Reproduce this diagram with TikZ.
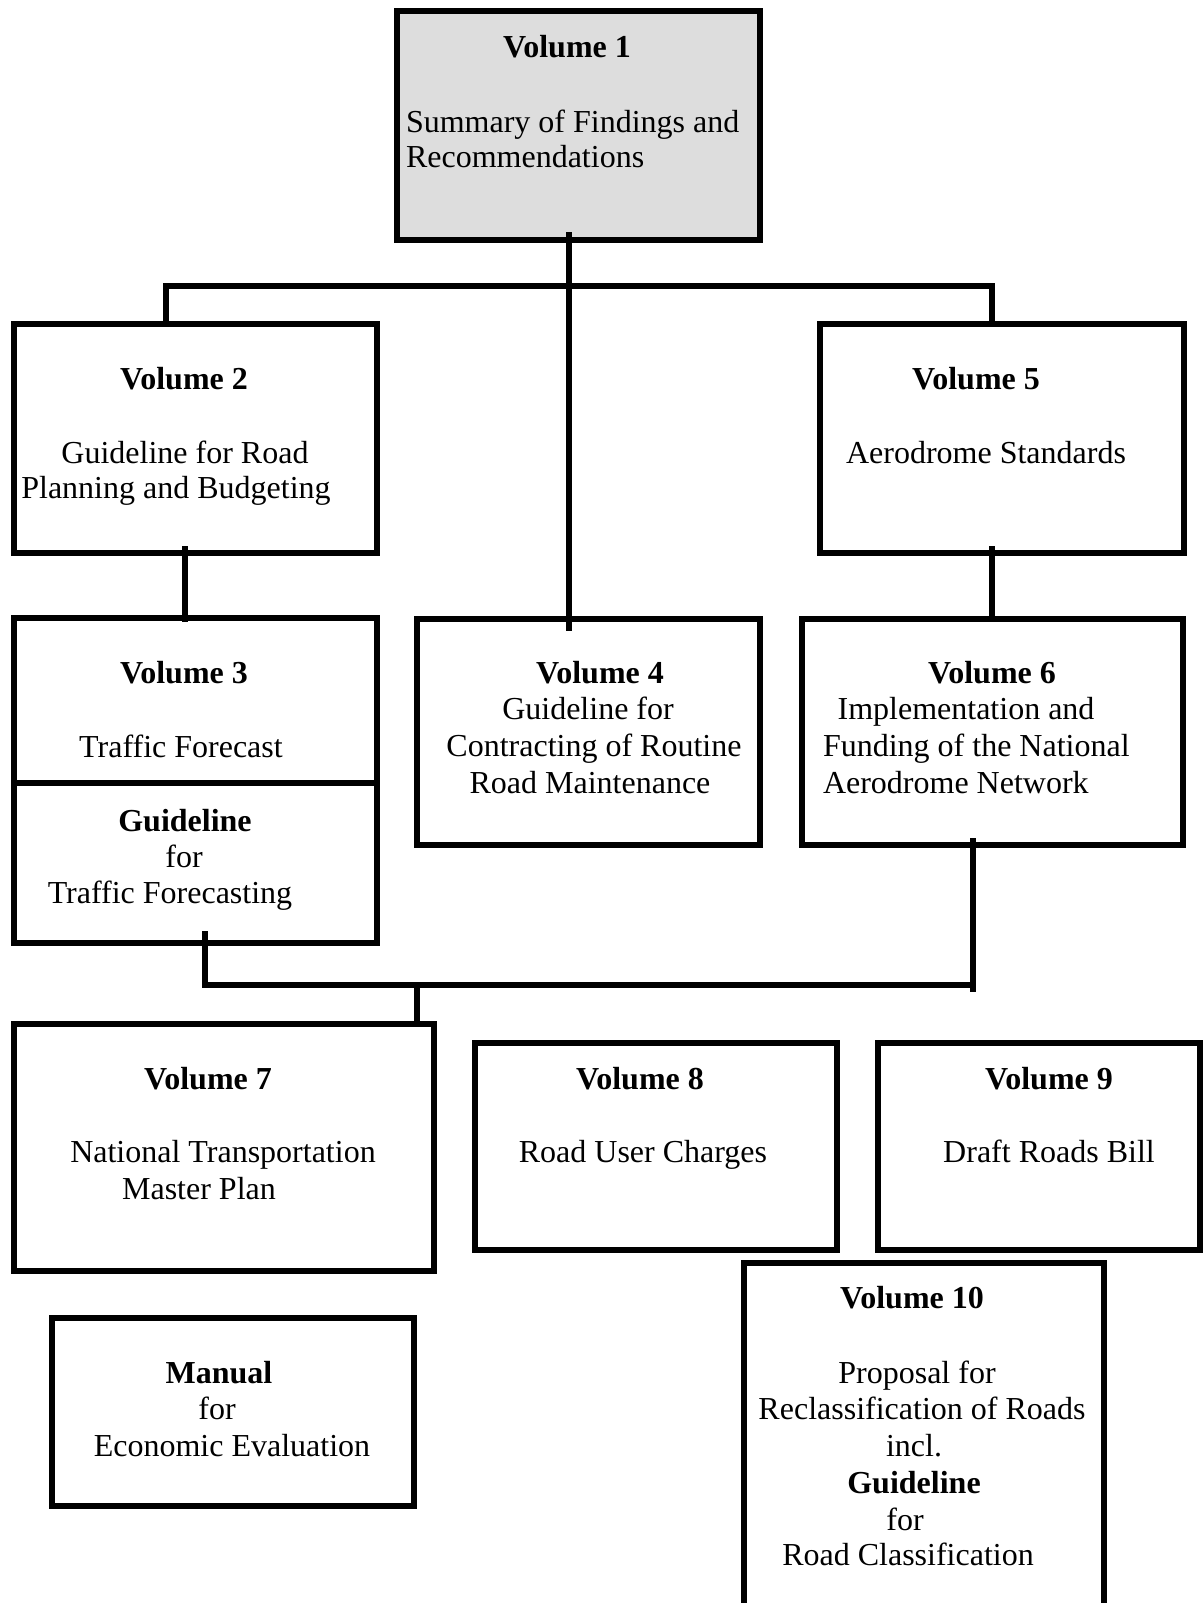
\documentclass[tikz,border=0pt]{standalone}
\usepackage{fontspec}
\setmainfont{Liberation Serif}
\definecolor{boxgray}{RGB}{221,221,221}
\begin{document}
\begin{tikzpicture}[x=1pt,y=-1pt,
  box/.style={draw=black, line width=5.5pt, inner sep=0pt, outer sep=0pt, anchor=north west},
  conn/.style={draw=black, line width=5.5pt},
  txt/.style={inner sep=0pt, outer sep=0pt, anchor=base, font=\fontsize{32}{35}\selectfont},
  txtl/.style={txt, anchor=base west},
  btxt/.style={txt, font=\fontsize{32}{35}\selectfont\bfseries}]
\useasboundingbox (0,0) rectangle (1203,1603);
\fill[white] (0,0) rectangle (1203,1603);

% boxes
\node[box, fill=boxgray, minimum width=363pt, minimum height=229pt] (v1) at (397,11) {};
\node[box, minimum width=363pt, minimum height=229pt] (v2) at (14,324) {};
\node[box, minimum width=364pt, minimum height=229pt] (v5) at (820,324) {};
\node[box, minimum width=363pt, minimum height=325pt] (v3) at (14,618) {};
\node[box, minimum width=343pt, minimum height=226pt] (v4) at (417,619) {};
\node[box, minimum width=381pt, minimum height=226pt] (v6) at (802,619) {};
\node[box, minimum width=420pt, minimum height=247pt] (v7) at (14,1024) {};
\node[box, minimum width=362pt, minimum height=207pt] (v8) at (475,1043) {};
\node[box, minimum width=322pt, minimum height=207pt] (v9) at (878,1043) {};
\node[box, minimum width=360pt, minimum height=387pt] (v10) at (744,1263) {};
\node[box, minimum width=362pt, minimum height=188pt] (man) at (52,1318) {};

% divider in volume 3
\coordinate (d1) at (14,783);
\coordinate (d2) at (377,783);
\draw[conn] (d1) -- (d2);

% connectors
\coordinate (a1) at (569,232);
\coordinate (a2) at (569,631);
\draw[conn] (a1) -- (a2);
\coordinate (h1) at (166,286);
\coordinate (h2) at (992,286);
\draw[conn] (v2.north -| h1) -- (h1) -- (h2) -- (v5.north -| h2);
\coordinate (b1) at (185,546);
\coordinate (b2) at (185,622);
\draw[conn] (b1) -- (b2);
\coordinate (c1) at (992,546);
\coordinate (c2) at (992,622);
\draw[conn] (c1) -- (c2);
\coordinate (e1) at (205,931);
\coordinate (e2) at (205,985);
\coordinate (e3) at (973,985);
\draw[conn] (e1) -- (e2) -- (e3);
\coordinate (f1) at (973,838);
\coordinate (f2) at (973,992);
\draw[conn] (f1) -- (f2);
\coordinate (g1) at (417,985);
\draw[conn] (g1) -- (v7.north -| g1);

% texts volume 1
\node[btxt] (t1a) at (567,58) {Volume 1};
\node[txtl] (t1b) at (406,132) {Summary of Findings and};
\node[txtl] (t1c) at (406,167) {Recommendations};
% volume 2
\node[btxt] (t2a) at (184,389) {Volume 2};
\node[txt] (t2b) at (185,463) {Guideline for Road};
\node[txt] (t2c) at (176,498) {Planning and Budgeting};
% volume 5
\node[btxt] (t5a) at (976,389) {Volume 5};
\node[txt] (t5b) at (986,463) {Aerodrome Standards};
% volume 3
\node[btxt] (t3a) at (184,683) {Volume 3};
\node[txt] (t3b) at (181,757) {Traffic Forecast};
\node[btxt] (t3c) at (185,831) {Guideline};
\node[txt] (t3d) at (184,867) {for};
\node[txt] (t3e) at (170,903) {Traffic Forecasting};
% volume 4
\node[btxt] (t4a) at (600,683) {Volume 4};
\node[txt] (t4b) at (588,719) {Guideline for};
\node[txt] (t4c) at (594,756) {Contracting of Routine};
\node[txt] (t4d) at (590,793) {Road Maintenance};
% volume 6
\node[btxt] (t6a) at (992,683) {Volume 6};
\node[txt] (t6b) at (966,719) {Implementation and};
\node[txtl] (t6c) at (823,756) {Funding of the National};
\node[txtl] (t6d) at (823,793) {Aerodrome Network};
% volume 7
\node[btxt] (t7a) at (208,1089) {Volume 7};
\node[txt] (t7b) at (223,1162) {National Transportation};
\node[txt] (t7c) at (199,1199) {Master Plan};
% manual
\node[btxt] (tma) at (219,1383) {Manual};
\node[txt] (tmb) at (217,1419) {for};
\node[txt] (tmc) at (232,1456) {Economic Evaluation};
% volume 8
\node[btxt] (t8a) at (640,1089) {Volume 8};
\node[txt] (t8b) at (643,1162) {Road User Charges};
% volume 9
\node[btxt] (t9a) at (1049,1089) {Volume 9};
\node[txt] (t9b) at (1049,1162) {Draft Roads Bill};
% volume 10
\node[btxt] (t10a) at (912,1308) {Volume 10};
\node[txt] (t10b) at (917,1383) {Proposal for};
\node[txt] (t10c) at (922,1419) {Reclassification of Roads};
\node[txt] (t10d) at (914,1456) {incl.};
\node[btxt] (t10e) at (914,1493) {Guideline};
\node[txt] (t10f) at (905,1530) {for};
\node[txt] (t10g) at (908,1565) {Road Classification};
\end{tikzpicture}
\end{document}
